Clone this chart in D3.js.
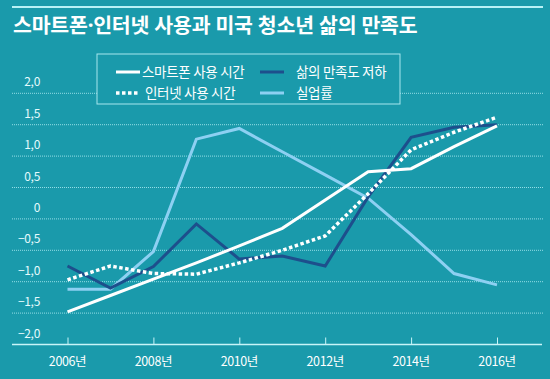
<!DOCTYPE html>
<html>
<head>
<meta charset="utf-8">
<script src="https://cdnjs.cloudflare.com/ajax/libs/d3/7.8.5/d3.min.js"></script>
<style>
    body { margin: 0; background: #1a9aab; }
    text { font-family: "Noto Sans CJK KR", "Noto Sans", sans-serif; }
    text.title { font-family: "Noto Sans", "Noto Sans CJK KR", sans-serif; }
</style>
</head>
<body>
<div id="chart-area"></div>
<script>
// data (index values, 2006 - 2016)
var years = [2006, 2007, 2008, 2009, 2010, 2011, 2012, 2013, 2014, 2015, 2016];
var smartphone = [-1.48, -1.22, -0.96, -0.7, -0.43, -0.15, 0.3, 0.75, 0.8, 1.15, 1.48];
var internet = [-0.97, -0.75, -0.87, -0.88, -0.7, -0.5, -0.27, 0.4, 1.1, 1.38, 1.62];
var satisfaction = [-0.75, -1.1, -0.76, -0.08, -0.64, -0.59, -0.75, 0.35, 1.3, 1.46, 1.5];
var unemployment = [-1.12, -1.12, -0.52, 1.27, 1.44, 1.07, 0.7, 0.33, -0.25, -0.87, -1.05];
var yTicks = [-2, -1.5, -1, -0.5, 0, 0.5, 1, 1.5, 2];
var xTicks = [2006, 2008, 2010, 2012, 2014, 2016];
var title = "스마트폰·인터넷 사용과 미국 청소년 삶의 만족도";
var legendNames = ["스마트폰 사용 시간", "인터넷 사용 시간", "삶의 만족도 저하", "실업률"];

var width = 550, height = 379;
var bg = "#1a9aab";

var svg = d3.select("#chart-area")
    .append("svg")
    .attr("width", width)
    .attr("height", height);

svg.append("rect")
    .attr("width", width)
    .attr("height", height)
    .attr("fill", bg);

// Title
svg.append("line")
    .attr("x1", 12).attr("x2", 543)
    .attr("y1", 7).attr("y2", 7)
    .attr("stroke", "#b8f1f6")
    .attr("stroke-width", 2);
svg.append("text")
    .attr("class", "title")
    .attr("x", 13)
    .attr("y", 33)
    .attr("fill", "white")
    .attr("font-size", "20.5px")
    .attr("font-weight", "bold")
    .attr("letter-spacing", "-0.2px")
    .text(title);

// Scales
var x = d3.scaleLinear().domain([2006, 2016]).range([67.5, 497]);
var y = d3.scaleLinear().domain([-2, 2]).range([344.5, 93.3]);

// Grid lines
svg.append("g")
    .selectAll("line")
    .data(yTicks.filter(function(d){ return d > -2; }))
    .enter()
    .append("line")
    .attr("x1", 12).attr("x2", 543)
    .attr("y1", function(d){ return y(d); })
    .attr("y2", function(d){ return y(d); })
    .attr("stroke", "#94dde6")
    .attr("stroke-width", 1)
    .attr("stroke-dasharray", "1,1");

// Y labels
svg.append("g")
    .selectAll("text")
    .data(yTicks)
    .enter()
    .append("text")
    .attr("x", 40)
    .attr("y", function(d){ return y(d) - 7; })
    .attr("text-anchor", "end")
    .attr("fill", "#e6fbfd")
    .attr("font-size", "12px")
    .attr("letter-spacing", "-0.3px")
    .text(function(d){
        if (d == 0) return "0";
        return (d < 0 ? "−" : "") + d3.format(".1f")(Math.abs(d)).replace(".", ",");
    });

// X axis
var xAxisCall = d3.axisTop(x)
    .tickValues(xTicks)
    .tickSize(7)
    .tickFormat("");
var xAxis = svg.append("g")
    .attr("transform", "translate(0," + y(-2) + ")")
    .call(xAxisCall);
xAxis.select(".domain").remove();
xAxis.selectAll("line").attr("stroke", "#c8f4f8");
svg.append("line")
    .attr("x1", 12).attr("x2", 542)
    .attr("y1", y(-2)).attr("y2", y(-2))
    .attr("stroke", "#c8f4f8")
    .attr("stroke-width", 1.5);
svg.append("g")
    .selectAll("text")
    .data(xTicks)
    .enter()
    .append("text")
    .attr("x", function(d){ return x(d); })
    .attr("y", 366)
    .attr("text-anchor", "middle")
    .attr("fill", "white")
    .attr("font-size", "12.5px")
    .attr("letter-spacing", "-0.4px")
    .text(function(d){ return d + "년"; });

// Lines
var series = [
    { values: unemployment, color: "#8dd0f2", width: 3, dash: null },
    { values: satisfaction, color: "#1d4f8c", width: 3, dash: null },
    { values: smartphone, color: "white", width: 3, dash: null },
    { values: internet, color: "white", width: 3.5, dash: "3.5,2.5" }
];
var line = d3.line()
    .x(function(d, i){ return x(years[i]); })
    .y(function(d){ return y(d); });

svg.append("g")
    .selectAll("path")
    .data(series)
    .enter()
    .append("path")
    .attr("d", function(d){ return line(d.values); })
    .attr("fill", "none")
    .attr("stroke", function(d){ return d.color; })
    .attr("stroke-width", function(d){ return d.width; })
    .attr("stroke-dasharray", function(d){ return d.dash; });

// Legend
var legend = svg.append("g");
legend.append("rect")
    .attr("x", 97).attr("y", 54)
    .attr("width", 303).attr("height", 50)
    .attr("fill", bg)
    .attr("stroke", "#a6e6ee")
    .attr("stroke-width", 1);
var legendItems = [
    { name: legendNames[0], s: series[2], lx: 116, ty: 72, tx: 142 },
    { name: legendNames[1], s: series[3], lx: 116, ty: 93, tx: 145 },
    { name: legendNames[2], s: series[1], lx: 260, ty: 72, tx: 296 },
    { name: legendNames[3], s: series[0], lx: 260, ty: 93, tx: 296 }
];
legendItems.forEach(function(d){
    legend.append("line")
        .attr("x1", d.lx).attr("x2", d.lx + 24)
        .attr("y1", d.ty).attr("y2", d.ty)
        .attr("stroke", d.s.color)
        .attr("stroke-width", d.s.width)
        .attr("stroke-dasharray", d.s.dash);
    legend.append("text")
        .attr("x", d.tx)
        .attr("y", d.ty + 4.5)
        .attr("fill", "white")
        .attr("font-size", "13.5px")
        .attr("letter-spacing", "-0.3px")
        .text(d.name);
});
</script>
</body>
</html>
